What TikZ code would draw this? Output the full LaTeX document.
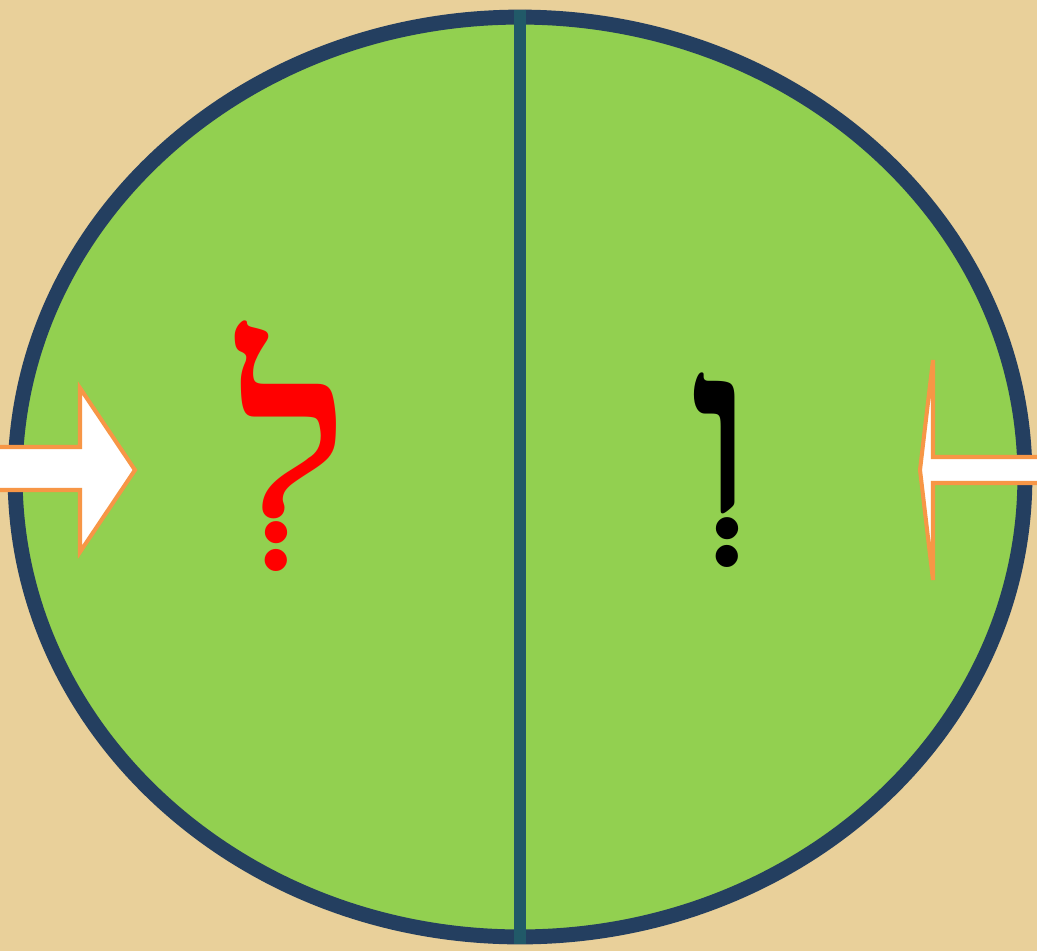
\documentclass[tikz,border=0pt]{standalone}
\usepackage{fontspec}
\TeXXeTstate=1
\newfontfamily\hebfont[Script=Hebrew]{Liberation Serif}
\usetikzlibrary{shapes.geometric, positioning}
\definecolor{papyrus}{HTML}{E9D09A}
\definecolor{leaf}{HTML}{92D050}
\definecolor{rimblue}{HTML}{243F60}
\definecolor{divteal}{HTML}{215968}
\definecolor{arroworange}{HTML}{F79646}
\tikzset{
    disc/.style={ellipse, draw=rimblue, fill=leaf, line width=8.5pt, inner sep=0pt, minimum width=20.2cm, minimum height=18.4cm},
    divider/.style={draw=divteal, line width=6.8pt},
    letter/.style={inner sep=0pt, font=\hebfont\bfseries\fontsize{135}{135}\selectfont},
    blockarrow/.style={fill=white, draw=arroworange, line width=2.3pt, line join=miter}
}
\begin{document}
\begin{tikzpicture}[x=0.02cm, y=-0.02cm]
    % papyrus background
    \fill[papyrus] (0,0) rectangle (1037,951);
    \useasboundingbox (0,0) rectangle (1037,951);
    \node (ring) [disc] at (520,477) {};
    \draw [divider] (ring.north) -- (ring.south);

    \node (lamed) [letter, text=red] at (293,446) {\beginR לְ\endR};
    \node (vav) [letter, text=black] at (722,470) {\beginR וְ\endR};

    % arrow in, left
    \filldraw [blockarrow] (-5,447) -- (80,447) -- (80,388) -- (135,470) -- (80,552) -- (80,490) -- (-5,490);
    % arrow in, right
    \filldraw [blockarrow] (1042,457) -- (933,457) -- (933,360) -- (920,470) -- (933,580) -- (933,483) -- (1042,483);
\end{tikzpicture}
\end{document}
